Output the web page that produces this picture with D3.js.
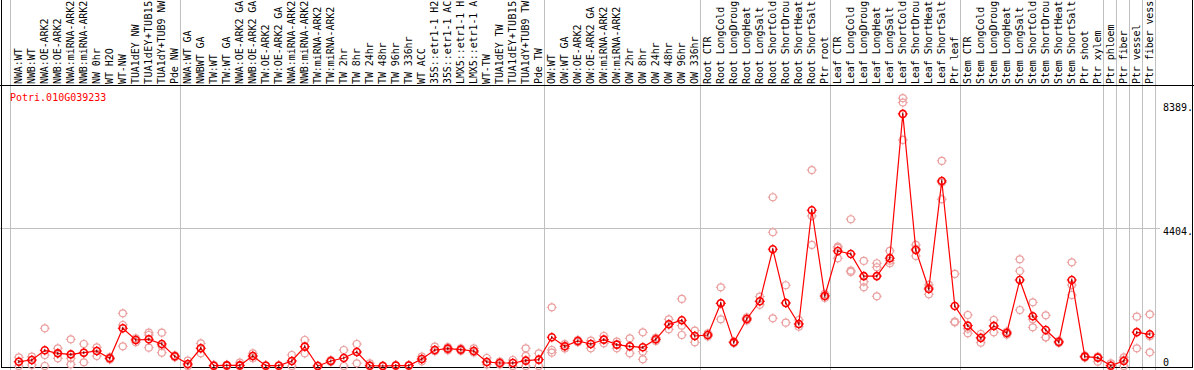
<!DOCTYPE html>
<html>
<head>
<meta charset="utf-8">
<script src="https://cdn.jsdelivr.net/npm/d3@7"></script>
<style>
  body { margin: 0; background: #fff; }
  text { font-family: "DejaVu Sans Mono", monospace; font-size: 10px; }
</style>
</head>
<body>
<div id="chart"></div>
<script>
// sample labels, in plot order
const labels = [
    'NWA:WT', 'NWB:WT', 'NWA:OE-ARK2', 'NWB:OE-ARK2', 'NWA:miRNA-ARK2', 'NWB:miRNA-ARK2',
    'NW 0hr', 'WT H2O', 'WT-NW', 'TUA1dEY NW', 'TUA1dEY+TUB15 NW', 'TUA1dY+TUB9 NW', 'Pde NW',
    'NWA:WT GA', 'NWBWT GA', 'TW:WT', 'TW:WT GA', 'NWA:OE-ARK2 GA', 'NWB:OE-ARK2 GA',
    'TW:OE-ARK2', 'TW:OE-ARK2 GA', 'NWA:miRNA-ARK2', 'NWB:miRNA-ARK2', 'TW:miRNA-ARK2', 'TW:miRNA-ARK2',
    'TW 2hr', 'TW 8hr', 'TW 24hr', 'TW 48hr', 'TW 96hr', 'TW 336hr', 'WT ACC',
    '35S::etr1-1 H2O', '35S::etr1-1 ACC', 'LMX5::etr1-1 H2O', 'LMX5::etr1-1 ACC',
    'WT-TW', 'TUA1dEY TW', 'TUA1dEY+TUB15 TW', 'TUA1dY+TUB9 TW', 'Pde TW',
    'OW:WT', 'OW:WT GA', 'OW:OE-ARK2', 'OW:OE-ARK2 GA', 'OW:miRNA-ARK2', 'OW:miRNA-ARK2',
    'OW 2hr', 'OW 8hr', 'OW 24hr', 'OW 48hr', 'OW 96hr', 'OW 336hr',
    'Root CTR', 'Root LongCold', 'Root LongDrought', 'Root LongHeat', 'Root LongSalt',
    'Root ShortCold', 'Root ShortDrought', 'Root ShortHeat', 'Root ShortSalt', 'Ptr root',
    'Leaf CTR', 'Leaf LongCold', 'Leaf LongDrought', 'Leaf LongHeat', 'Leaf LongSalt',
    'Leaf ShortCold', 'Leaf ShortDrought', 'Leaf ShortHeat', 'Leaf ShortSalt', 'Ptr leaf',
    'Stem CTR', 'Stem LongCold', 'Stem LongDrought', 'Stem LongHeat', 'Stem LongSalt',
    'Stem ShortCold', 'Stem ShortDrought', 'Stem ShortHeat', 'Stem ShortSalt', 'Ptr shoot',
    'Ptr xylem', 'Ptr phloem', 'Ptr fiber', 'Ptr vessel', 'Ptr fiber vessel'
];

// mean expression per sample
const means = [
    137, 191, 500, 404, 372, 425, 478, 245, 1203, 830, 851, 702, 309,
    64, 565, 10, 20, 20, 319, 10, 10, 160, 617, 0, 160, 255, 447, 10, 0, 15, 15,
    223, 510, 553, 521, 478, 128, 96, 96, 170, 202,
    915, 628, 798, 702, 840, 681, 628, 596, 851, 1330, 1458, 957,
    989, 2000, 755, 1500, 2064, 3724, 2010, 1340, 4968, 2234,
    3670, 3574, 2867, 2867, 3440, 8041, 3702, 2457, 5903, 1915,
    1287, 893, 1276, 1053, 2744, 1585, 1149, 766, 2744, 298, 266,
    10, 160, 1075, 1011
];

// replicate values per sample
const reps = [
    [278, 137, 0], [297, 191, 32], [1203, 351, 0], [565, 404, 245], [851, 245, 53],
    [702, 425, 117], [596, 478, 319], [280, 245, 210], [1681, 1308, 628], [880, 830, 760],
    [1063, 989, 585], [1063, 638, 425], [340, 309, 280],
    [170, 40, 0], [723, 565, 404], [30, 10, 0], [40, 20, 0], [106, 20, 0], [404, 319, 250],
    [20, 10, 0], [20, 10, 0], [351, 160, 0], [830, 617, 404], [10, 0, 0], [191, 160, 130],
    [510, 255, 0], [702, 447, 85], [85, 10, 0], [10, 0, 0], [30, 15, 0], [30, 15, 0],
    [300, 223, 150], [617, 510, 470], [600, 553, 500], [560, 521, 480], [560, 478, 430],
    [255, 128, 50], [140, 96, 50], [191, 96, 0], [565, 320, 170, 0], [404, 202, 0],
    [1872, 510, 425], [700, 628, 560], [830, 798, 760], [808, 702, 565], [957, 840, 723],
    [776, 681, 565], [883, 628, 404], [1075, 457, 213], [900, 851, 800], [1490, 1330, 1171],
    [2138, 1287, 989], [1128, 957, 755],
    [1040, 989, 940], [2511, 2000, 1490], [780, 755, 730], [1550, 1500, 1450], [2212, 2064, 1950],
    [5383, 4266, 1522], [2575, 2010, 1383], [1468, 1340, 1255], [6250, 4787, 3861], [2300, 2234, 2170],
    [3808, 3766, 3436], [4681, 3040, 3000], [3351, 2690, 2511], [3277, 3150, 2224], [3670, 3360, 3277],
    [8542, 8402, 7212], [3861, 3740, 3510], [2585, 2500, 2288], [6542, 5850, 5319], [2936, 1415, 1394],
    [1627, 1190, 1043], [1021, 914, 744], [1468, 1285, 1075], [1100, 1053, 1000], [3404, 3031, 1787],
    [2032, 1490, 1234], [1617, 915, 915], [800, 766, 730], [3308, 2585, 2265], [330, 298, 266],
    [300, 266, 138], [85, 10, 0], [277, 200, 0], [1574, 1086, 565], [1649, 948, 436]
];

// number of samples after which a separator is drawn
const groupEnds = [13, 41, 53, 63, 73, 84, 85, 86, 87, 88];
const axisTicks = [8389, 4404, 0];
const gridTicks = [4404];
const geneName = 'Potri.010G039233';

const width = 1194;
const height = 370;
const headerY = 85;
const maxChars = 14; // header only fits 14 characters

const svg = d3.select('#chart')
    .append('svg')
    .attr('width', width)
    .attr('height', height);

const x = d3.scaleBand()
    .domain(d3.range(labels.length))
    .range([12.3, 12.3 + 13 * labels.length]);

const y = d3.scaleLinear()
    .domain([0, 8389])
    .range([366, 103]);

const cx = i => x(i) + x.bandwidth() / 2;

// separators
const seps = [x(0) - 1].concat(groupEnds.map(n => x(n - 1) + x.bandwidth()));
svg.selectAll('.sep')
    .data(seps)
    .enter()
    .append('line')
    .attr('x1', d => Math.round(d) - 0.5)
    .attr('x2', d => Math.round(d) - 0.5)
    .attr('y1', 0)
    .attr('y2', height)
    .attr('stroke', '#c0c0c0');

// horizontal grid
svg.selectAll('.grid')
    .data(gridTicks)
    .enter()
    .append('line')
    .attr('x1', 0)
    .attr('x2', 1160)
    .attr('y1', d => Math.round(y(d)) + 0.5)
    .attr('y2', d => Math.round(y(d)) + 0.5)
    .attr('stroke', '#c0c0c0');

// frame
svg.append('line')
    .attr('x1', 0).attr('x2', width)
    .attr('y1', headerY + 0.5).attr('y2', headerY + 0.5)
    .attr('stroke', '#000');
svg.append('rect')
    .attr('x', 1.5).attr('y', -1)
    .attr('width', width - 3).attr('height', height - 1.5)
    .attr('fill', 'none')
    .attr('stroke', '#000');

// header labels
svg.selectAll('.lab')
    .data(labels)
    .enter()
    .append('text')
    .attr('transform', (d, i) => `translate(${cx(i) + 3},84) rotate(-90)`)
    .attr('fill', '#000')
    .attr('textLength', d => Math.min(d.length, maxChars) * 5.95)
    .text(d => d.slice(0, maxChars));

svg.append('text')
    .attr('x', 10)
    .attr('y', 101)
    .attr('fill', 'red')
    .text(geneName);

// right axis labels
svg.selectAll('.tick')
    .data(axisTicks)
    .enter()
    .append('text')
    .attr('x', 1163)
    .attr('y', d => d === 0 ? y(d) : y(d) + 7.5)
    .attr('fill', '#000')
    .text(d => d === 0 ? '0' : d + '.');

function marker(g, r, color, w) {
    g.append('circle')
        .attr('r', r)
        .attr('fill', 'none')
        .attr('stroke', color)
        .attr('stroke-width', w);
    g.append('path')
        .attr('d', `M0,${-r - 1.5}V${-r + 0.5}M0,${r - 0.5}V${r + 1.5}M${-r - 1.5},0H${-r + 0.5}M${r - 0.5},0H${r + 1.5}`)
        .attr('stroke', color)
        .attr('stroke-width', 1);
}

// replicates
const repPts = [];
reps.forEach((arr, i) => arr.forEach(v => repPts.push({ i, v })));
svg.selectAll('.rep')
    .data(repPts)
    .enter()
    .append('g')
    .attr('transform', d => `translate(${cx(d.i)},${y(d.v)})`)
    .each(function() { marker(d3.select(this), 3.5, '#eba0a0', 1.2); });

// mean line
const line = d3.line()
    .x((d, i) => cx(i))
    .y(d => y(d));
svg.append('path')
    .datum(means)
    .attr('d', line)
    .attr('fill', 'none')
    .attr('stroke', 'red')
    .attr('stroke-width', 1.2);

svg.selectAll('.mean')
    .data(means)
    .enter()
    .append('g')
    .attr('transform', (d, i) => `translate(${cx(i)},${y(d)})`)
    .each(function() {
        const g = d3.select(this);
        marker(g, 3.5, 'red', 1.6);
        g.append('path')
            .attr('d', 'M0,-1.5V1.5')
            .attr('stroke', '#600')
            .attr('stroke-width', 1);
    });
</script>
</body>
</html>
